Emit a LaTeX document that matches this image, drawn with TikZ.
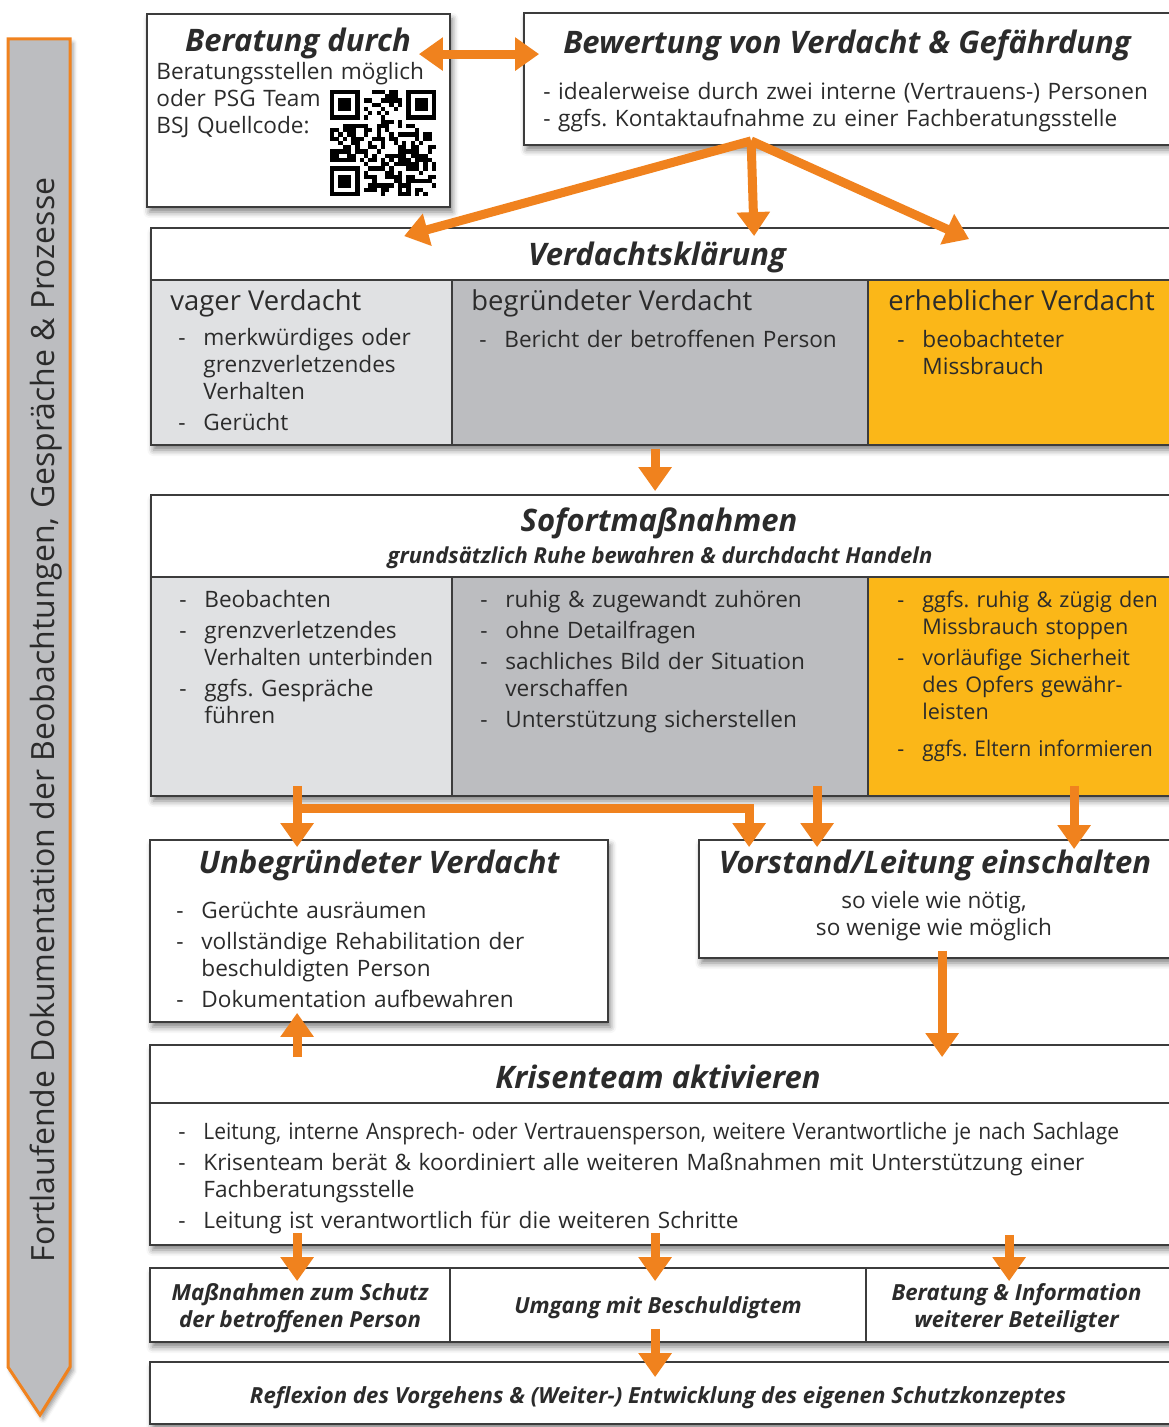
\documentclass[tikz,border=0pt]{standalone}
\usepackage{fontspec}
\setmainfont{Open Sans}
\usetikzlibrary{arrows.meta, fit, shadows.blur}

\definecolor{ink}{HTML}{2B2B2B}
\definecolor{rahmen}{HTML}{3C3C3C}
\definecolor{orangeA}{HTML}{F0821E}
\definecolor{gelb}{HTML}{FBB718}
\definecolor{grauA}{HTML}{E0E1E3}
\definecolor{grauB}{HTML}{BCBDC0}

\frenchspacing
% Aufzaehlungspunkt mit Strich
\newcommand\itm[1]{\hangindent=12.5pt\hangafter=1\noindent\makebox[12.5pt][l]{-}{\let\\\newline#1}\par\vspace{2pt}}

\tikzset{
  box/.style={draw=rahmen, line width=0.9pt, fill=white, inner sep=0pt},
  shbox/.style={box, blur shadow={shadow xshift=1.2pt, shadow yshift=-2.5pt, shadow blur radius=3pt, shadow opacity=50}},
  cell/.style={draw=rahmen, line width=0.9pt, inner sep=0pt},
  titel/.style={font=\fontsize{15.5}{18}\selectfont\bfseries\itshape, text=ink, inner sep=0pt},
  spalte/.style={anchor=base west, inner sep=0pt, text=ink, font=\fontsize{13.7}{16}\selectfont},
  liste/.style={anchor=base west, align=left, text width=#1, inner sep=0pt, text=ink, font=\fontsize{11.3}{13.5}\selectfont},
  klein/.style={align=center, inner sep=0pt, text=ink, font=\fontsize{11.1}{13.5}\selectfont\bfseries\itshape},
  oarr/.style={draw=orangeA, line width=4.5pt, -{Triangle[width=16pt,length=12pt]}},
  darr/.style={draw=orangeA, line width=4.5pt, {Triangle[width=16pt,length=12pt]}-{Triangle[width=16pt,length=12pt]}},
}

\begin{document}
\begin{tikzpicture}[x=0.5pt, y=-0.5pt]
\useasboundingbox (0,0) rectangle (1168,1427);

% Seitenpfeil
\fill[grauB, draw=orangeA, line width=1.5pt,
  blur shadow={shadow xshift=1.5pt, shadow yshift=-2pt, shadow opacity=40}]
  (8,39) -- (70,39) -- (70,1367) -- (40,1415) -- (8,1367) -- cycle;
\node[rotate=90, text=ink, font=\fontsize{16}{19}\selectfont] (doku) at (46,720)
  {Fortlaufende Dokumentation der Beobachtungen, Gespräche \& Prozesse};

% Beratung
\node[shbox, fit={(147,14) (450,207)}] (ber) {};
\node[titel] (bert) at (298,43) {Beratung durch};
\node[liste=150pt] (berl) at (156,80)
  {Beratungsstellen möglich\\oder PSG Team\\BSJ Quellcode:};
% QR-Code
\pgfmathsetseed{4711}
\foreach \i in {0,...,24}{
  \foreach \j in {0,...,24}{
    \pgfmathtruncatemacro\bit{((\i<8 && \j<8) || (\i>16 && \j<8) || (\i<8 && \j>16)) ? 0 : random(0,1)}
    \ifnum\bit=1 \fill[black] ({330+\i*4.24},{90+\j*4.24}) rectangle ++(4.3,4.3); \fi
  }
}
\foreach \fx/\fy in {0/0, 18/0, 0/18}{
  \fill ({330+\fx*4.24},{90+\fy*4.24}) rectangle ++(29.68,29.68);
  \fill[white] ({330+(\fx+1)*4.24},{90+(\fy+1)*4.24}) rectangle ++(21.2,21.2);
  \fill ({330+(\fx+2)*4.24},{90+(\fy+2)*4.24}) rectangle ++(12.72,12.72);
}

% Bewertung
\node[shbox, fit={(524,13) (1175,145)}] (bew) {};
\node[titel] (bewt) at (847,45) {Bewertung von Verdacht \& Gefährdung};
\node[liste=320pt] (bewl) at (543,100)
  {- idealerweise durch zwei interne (Vertrauens-) Personen\\- ggfs. Kontaktaufnahme zu einer Fachberatungsstelle};

\draw[darr] ([xshift=-16pt,yshift=-20.5pt]ber.north east) -- ([xshift=8pt,yshift=-21pt]bew.north west);

% Verdachtsklaerung
\node[shbox, fit={(151,228) (1175,445)}] (vk) {};
\node[cell, fill=white, fit={(151,228) (1175,280)}] (vkkopf) {};
\node[cell, fill=grauA, fit={(151,280) (452,445)}] (vk1) {};
\node[cell, fill=grauB, fit={(452,280) (868,445)}] (vk2) {};
\node[cell, fill=gelb, fit={(868,280) (1175,445)}] (vk3) {};
\node[titel] (vkt) at (657,257) {Verdachtsklärung};
\node[spalte] (vk1t) at (170,311) {vager Verdacht};
\node[spalte] (vk2t) at (471,311) {begründeter Verdacht};
\node[spalte] (vk3t) at (888,311) {erheblicher Verdacht};
\node[liste=140pt] (vk1l) at (178,346) {\itm{merkwürdiges oder\\grenzverletzendes\\Verhalten}\itm{Gerücht}};
\node[liste=190pt] (vk2l) at (479,348) {\itm{Bericht der betroffenen Person}};
\node[liste=140pt] (vk3l) at (897,348) {\itm{beobachteter\\Missbrauch}};

\coordinate (fork) at ([xshift=114pt,yshift=2.5pt]bew.south west);
\draw[oarr] (fork) -- ([xshift=127pt,yshift=-4.5pt]vk.north west);
\draw[oarr] (fork) -- ([xshift=302pt,yshift=-4.5pt]vk.north west);
\draw[oarr] (fork) -- ([xshift=409.5pt,yshift=-6pt]vk.north west);

% Sofortmassnahmen
\node[shbox, fit={(151,495) (1175,796)}] (sof) {};
\node[cell, fill=white, fit={(151,495) (1175,577)}] (sofkopf) {};
\node[cell, fill=grauA, fit={(151,577) (452,796)}] (sof1) {};
\node[cell, fill=grauB, fit={(452,577) (868,796)}] (sof2) {};
\node[cell, fill=gelb, fit={(868,577) (1175,796)}] (sof3) {};
\node[titel] (soft) at (659,523) {Sofortmaßnahmen};
\node[klein, font=\fontsize{11}{13.5}\selectfont\bfseries\itshape] (sofs) at (660,558) {grundsätzlich Ruhe bewahren \& durchdacht Handeln};
\node[liste=140pt] (sof1l) at (179,607)
  {\itm{Beobachten}\itm{grenzverletzendes\\\scalebox{0.95}[1]{Verhalten unterbinden}}\itm{ggfs. Gespräche\\führen}};
\node[liste=190pt] (sof2l) at (480,607)
  {\itm{ruhig \& zugewandt zuhören}\itm{ohne Detailfragen}\itm{sachliches Bild der Situation\\verschaffen}\itm{Unterstützung sicherstellen}};
\node[liste=150pt, font=\fontsize{10.8}{13.5}\selectfont] (sof3l) at (897,607)
  {\itm{ggfs. ruhig \& zügig den\\Missbrauch stoppen}\itm{vorläufige Sicherheit\\des Opfers gewähr-\\leisten}\vspace{3pt}\itm{\scalebox{0.96}[1]{ggfs. Eltern informieren}}};

\draw[oarr] ([xshift=252.5pt,yshift=-1.5pt]vk.south west) -- ([xshift=252.5pt,yshift=1.5pt]sof.north west);

% Unbegruendeter Verdacht / Vorstand
\node[shbox, fit={(150,840) (608,1022)}] (unb) {};
\node[titel] (unbt) at (379,865) {Unbegründeter Verdacht};
\node[liste=210pt] (unbl) at (176,918)
  {\itm{Gerüchte ausräumen}\itm{vollständige Rehabilitation der\\beschuldigten Person}\itm{Dokumentation aufbewahren}};

\node[shbox, fit={(699,840) (1175,958)}] (vor) {};
\node[titel] (vort) at (935,865) {Vorstand/Leitung einschalten};
\node[align=center, inner sep=0pt, text=ink, font=\fontsize{11.3}{13.5}\selectfont] (vorl) at (934,916)
  {so viele wie nötig,\\so wenige wie möglich};

\coordinate (split) at ([xshift=73.5pt,yshift=-6pt]sof.south west);
\draw[oarr] ([xshift=73.5pt,yshift=5.5pt]sof.south west) -- ([xshift=74pt,yshift=-4pt]unb.north west);
\draw[oarr] (split) -| ([xshift=25.5pt,yshift=-4pt]vor.north west);
\draw[oarr] ([xshift=333.5pt,yshift=5.5pt]sof.south west) -- ([xshift=59.5pt,yshift=-4pt]vor.north west);
\draw[oarr] ([xshift=462pt,yshift=5.5pt]sof.south west) -- ([xshift=188pt,yshift=-5pt]vor.north west);

% Krisenteam
\node[shbox, fit={(150,1045) (1175,1245)}] (kri) {};
\node[cell, fill=white, fit={(150,1045) (1175,1103)}] (krikopf) {};
\node[titel] (krit) at (658,1077) {Krisenteam aktivieren};
\node[liste=500pt] (kril) at (178,1139)
  {\itm{\scalebox{0.93}[1]{Leitung, interne Ansprech- oder Vertrauensperson, weitere Verantwortliche je nach Sachlage}}\itm{Krisenteam berät \& koordiniert alle weiteren Maßnahmen mit Unterstützung einer\\Fachberatungsstelle}\itm{Leitung ist verantwortlich für die weiteren Schritte}};

\draw[oarr] ([xshift=122pt,yshift=4pt]vor.south west) -- ([xshift=396.5pt,yshift=-6.5pt]kri.north west);
\draw[oarr] ([xshift=74pt,yshift=-6.5pt]kri.north west) -- ([xshift=74pt,yshift=5pt]unb.south west);

% Weitere Schritte
\node[shbox, fit={(150,1268) (1175,1342)}] (reihe) {};
\node[cell, fit={(150,1268) (450,1342)}] (mas) {};
\node[cell, fit={(450,1268) (866,1342)}] (umg) {};
\node[cell, fit={(866,1268) (1175,1342)}] (btg) {};
\node[klein] (mast) at ([yshift=-1.5pt]mas.center) {Maßnahmen zum Schutz\\der betroffenen Person};
\node[klein] (umgt) at ([yshift=-1.5pt]umg.center) {Umgang mit Beschuldigtem};
\node[klein] (btgt) at ([xshift=-2pt,yshift=-1.5pt]btg.center) {Beratung \& Information\\weiterer Beteiligter};

\draw[oarr] ([xshift=74pt,yshift=6.5pt]kri.south west) -- ([xshift=74pt,yshift=-7pt]reihe.north west);
\draw[oarr] ([xshift=253pt,yshift=6.5pt]kri.south west) -- ([xshift=253pt,yshift=-7pt]reihe.north west);
\draw[oarr] ([xshift=430pt,yshift=5.5pt]kri.south west) -- ([xshift=430pt,yshift=-7pt]reihe.north west);

\node[shbox, fit={(150,1362) (1175,1424)}] (ref) {};
\node[klein] (reft) at (658,1398) {Reflexion des Vorgehens \& (Weiter-) Entwicklung des eigenen Schutzkonzeptes};

\draw[oarr] ([xshift=253pt,yshift=7pt]reihe.south west) -- ([xshift=253pt,yshift=-8pt]ref.north west);
\end{tikzpicture}
\end{document}
